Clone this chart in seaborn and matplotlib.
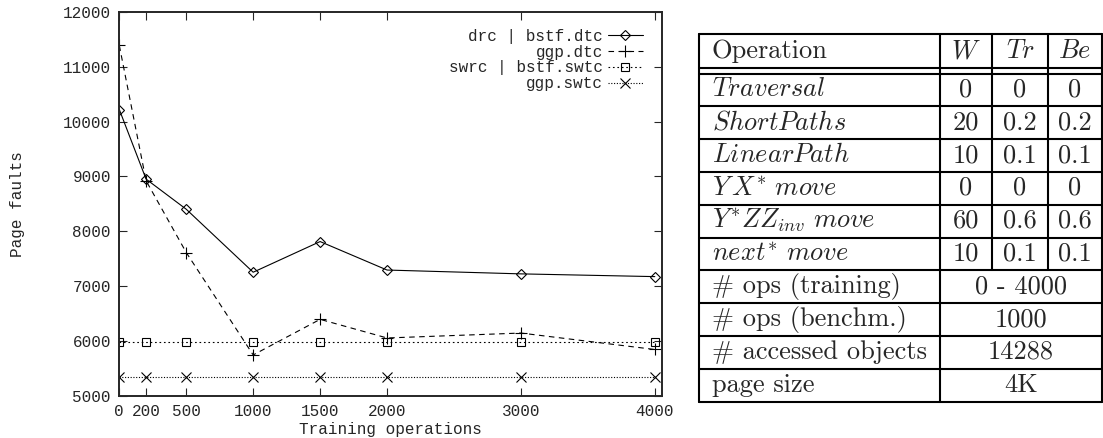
import matplotlib
matplotlib.use("Agg")
import matplotlib.pyplot as plt
from matplotlib.lines import Line2D
import seaborn as sns
import pandas as pd

# training operations on the x axis
training_ops = [0, 200, 500, 1000, 1500, 2000, 3000, 4000]

# page faults per configuration
drc_bstf_dtc = [10220, 8950, 8400, 7250, 7810, 7290, 7220, 7170]
ggp_dtc = [11390, 8920, 7610, 5740, 6390, 6050, 6140, 5840]
swrc_bstf_swtc = [5980, 5980, 5980, 5980, 5980, 5980, 5980, 5980]
ggp_swtc = [5330, 5330, 5330, 5330, 5330, 5330, 5330, 5330]

series_labels = ["drc | bstf.dtc", "ggp.dtc", "swrc | bstf.swtc", "ggp.swtc"]
y_ticks = [5000, 6000, 7000, 8000, 9000, 10000, 11000, 12000]

# table contents
table_header = ["Operation", "$W$", "$Tr$", "$Be$"]
op_names = [r"$Traversal$", r"$ShortPaths$", r"$LinearPath$", r"$Y\,X^{*}\ move$",
            r"$Y^{*}ZZ_{inv}\ move$", r"$next^{*}\ move$"]
w_vals = ["0", "20", "10", "0", "60", "10"]
tr_vals = ["0", "0.2", "0.1", "0", "0.6", "0.1"]
be_vals = ["0", "0.2", "0.1", "0", "0.6", "0.1"]
param_names = ["# ops (training)", "# ops (benchm.)", "# accessed objects", "page size"]
param_vals = ["0 - 4000", "1000", "14288", "4K"]

sns.set_style("ticks")
plt.rcParams["font.family"] = ["Liberation Mono", "DejaVu Sans Mono"]
plt.rcParams["mathtext.fontset"] = "cm"

W, H = 1103, 438
fig = plt.figure(figsize=(W / 100, H / 100), dpi=100)
ax = fig.add_axes([119.3 / W, 1 - 395.5 / H, (661.5 - 119.3) / W, (395.5 - 12) / H])

df = pd.DataFrame({"ops": training_ops, "a": drc_bstf_dtc, "b": ggp_dtc,
                   "c": swrc_bstf_swtc, "d": ggp_swtc})
styles = [
    ("a", "D", "-", 5.5),
    ("b", "+", (0, (5, 4)), 8),
    ("c", "s", (0, (1.5, 2.5)), 6),
    ("d", "x", (0, (1, 1.5)), 6.5),
]
for (col, mk, ls, ms), lab in zip(styles, series_labels):
    sns.lineplot(data=df, x="ops", y=col, ax=ax, color="black", linewidth=0.8,
                 linestyle=ls, marker=mk, markersize=ms, markerfacecolor="none",
                 markeredgecolor="black", markeredgewidth=0.8, label=lab)

ax.set_xlim(0, 4050)
ax.set_ylim(5000, 12000)
ax.set_xticks(training_ops)
ax.set_yticks(y_ticks)
ax.tick_params(direction="in", top=True, right=True, length=5.7, width=0.8,
               labelsize=11.5, pad=6)
for sp in ax.spines.values():
    sp.set_linewidth(1.4)
ax.set_xlabel("Training operations", fontsize=11.5)
ax.set_ylabel("Page faults", fontsize=11.5)
ax.xaxis.set_label_coords(0.5, -0.068)
ax.yaxis.set_label_coords(-0.174, 0.5)

ax.legend(loc="upper right", bbox_to_anchor=(0.966, 0.956), frameon=False,
          markerfirst=False, fontsize=11.5, borderaxespad=0, borderpad=0,
          labelspacing=0.05, handlelength=2.2, handletextpad=0.3)

# table drawn in figure pixel space
def fx(x):
    return x / W

def fy(y):
    return 1 - y / H

def hline(y, x0=699, x1=1102):
    fig.add_artist(Line2D([fx(x0), fx(x1)], [fy(y), fy(y)], color="black", lw=1.5))

def vline(x, y0, y1):
    fig.add_artist(Line2D([fx(x), fx(x)], [fy(y0), fy(y1)], color="black", lw=1.5))

top, head_bot, gap_bot, row_h = 34.3, 67.5, 73.5, 32.8
n_rows = len(op_names) + len(param_names)
bottom = gap_bot + n_rows * row_h
cols = [699, 940, 992, 1048, 1102]

hline(top)
hline(head_bot)
hline(gap_bot)
for i in range(1, n_rows + 1):
    hline(gap_bot + i * row_h)
vline(cols[0], top, bottom)
vline(cols[1], top, bottom)
vline(cols[4], top, bottom)
mid_bot = gap_bot + len(op_names) * row_h
vline(cols[2], top, mid_bot)
vline(cols[3], top, mid_bot)

tx = 711.5
fs = 19
rm = "cmr10"
centers = [(cols[1] + cols[2]) / 2, (cols[2] + cols[3]) / 2, (cols[3] + cols[4]) / 2]

fig.text(fx(tx), fy(head_bot - 9.3), table_header[0], family=rm, fontsize=fs, va="baseline")
for c, t in zip(centers, table_header[1:]):
    fig.text(fx(c), fy(head_bot - 9.3), t, fontsize=fs, ha="center", va="baseline")

for i, name in enumerate(op_names):
    yb = gap_bot + (i + 1) * row_h - 9.8
    fig.text(fx(tx), fy(yb), name, fontsize=fs, va="baseline")
    for c, v in zip(centers, [w_vals[i], tr_vals[i], be_vals[i]]):
        fig.text(fx(c), fy(yb), v, family=rm, fontsize=fs, ha="center", va="baseline")

for j, (name, v) in enumerate(zip(param_names, param_vals)):
    yb = mid_bot + (j + 1) * row_h - 9.8
    fig.text(fx(tx), fy(yb), name, family=rm, fontsize=fs, va="baseline")
    fig.text(fx((cols[1] + cols[4]) / 2), fy(yb), v, family=rm, fontsize=fs,
             ha="center", va="baseline")

fig.savefig("out.png", dpi=100)
